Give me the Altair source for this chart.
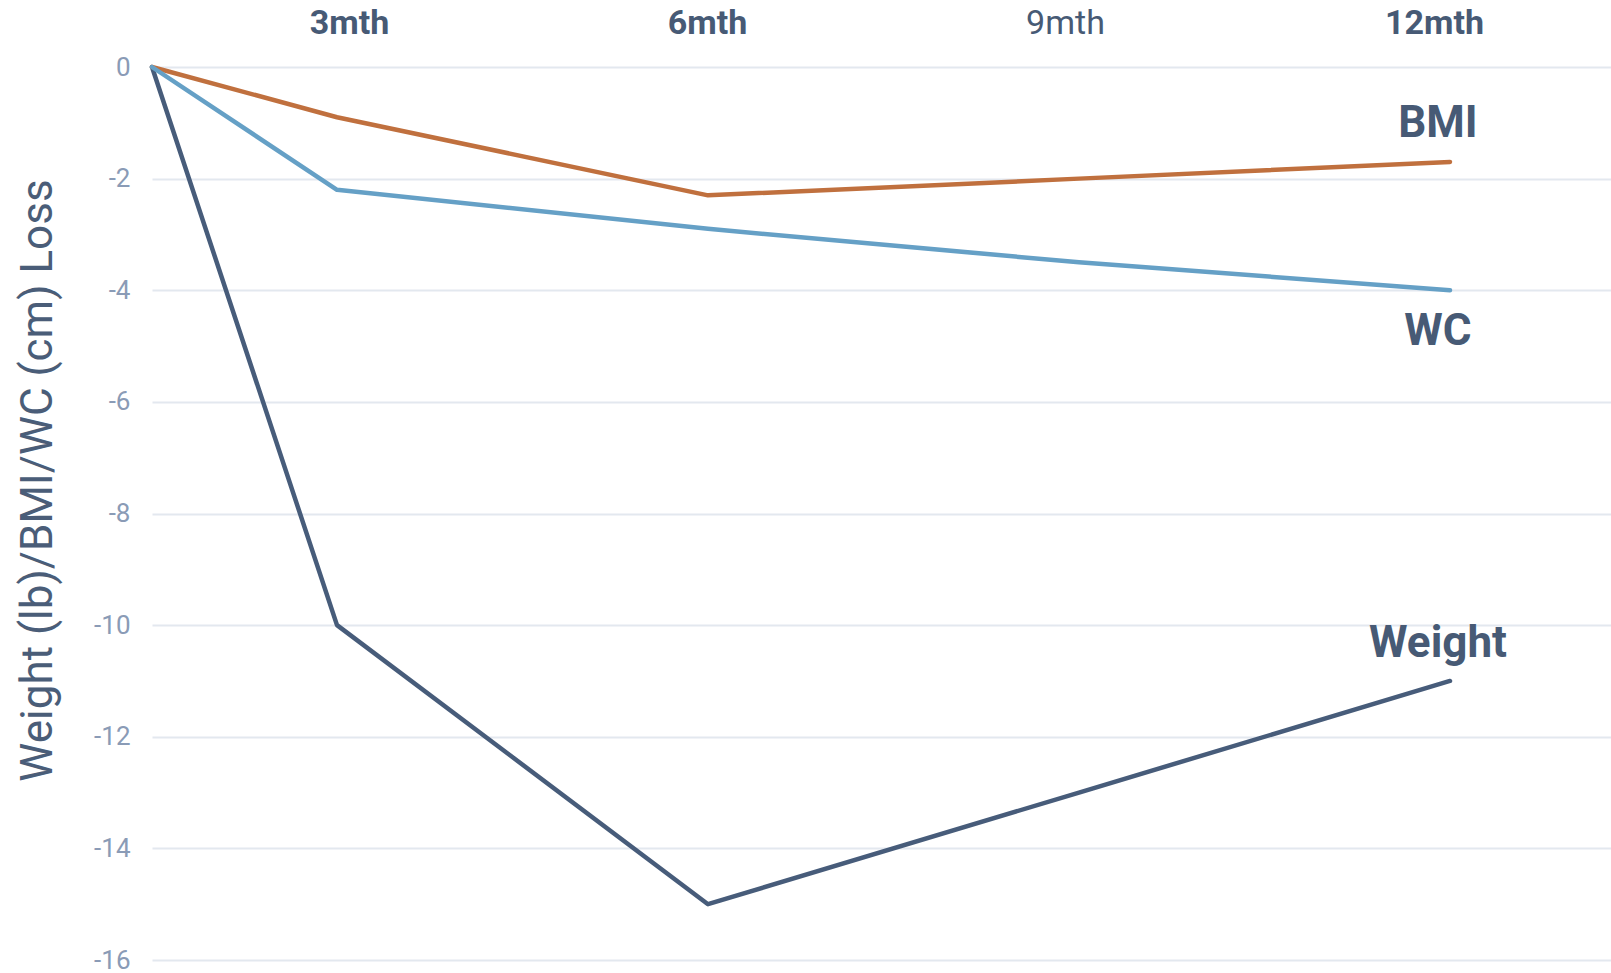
import altair as alt
import pandas as pd

months = [0, 3, 6, 9, 12]
weight = [0, -10, -15, -13, -11]
bmi = [0, -0.9, -2.3, -2.0, -1.7]
wc = [0, -2.2, -2.9, -3.5, -4.0]
series_names = ["Weight", "BMI", "WC"]
series_colors = ["#475c7a", "#c0703e", "#65a0c6"]
tick_months = [3, 6, 9, 12]

rows = []
for name, vals in zip(series_names, [weight, bmi, wc]):
    for m, v in zip(months, vals):
        rows.append({"month": m, "value": v, "series": name})
df = pd.DataFrame(rows)
end_df = df[df["month"] == 12]

FONT = "Roboto"
xscale = alt.Scale(type="linear", domain=[0, 3, 13.302], range=[0, 185, 1459])
yscale = alt.Scale(domain=[-16, 0], nice=False, zero=False)

lines = alt.Chart(df).mark_line(strokeWidth=4.5, strokeCap="round", strokeJoin="round").encode(
    x=alt.X("month:Q", scale=xscale,
            axis=alt.Axis(orient="top", values=tick_months, labelExpr="datum.value + 'mth'",
                          grid=False, domain=False, ticks=False, title=None,
                          labelFont=FONT, labelFontSize=34,
                          labelFontWeight=alt.expr("datum.value == 9 ? 'normal' : 'bold'"),
                          labelOffset=alt.expr("datum.value == 3 ? 12 : datum.value == 6 ? -1 : datum.value == 9 ? -14 : -16"),
                          labelColor="#475a75", labelPadding=27)),
    y=alt.Y("value:Q", scale=yscale,
            axis=alt.Axis(values=list(range(-16, 1, 2)), grid=True, gridColor="#e3e8ef",
                          gridWidth=2, domain=False, ticks=False,
                          labelExpr="'' + datum.value",
                          labelFont=FONT, labelFontSize=26, labelColor="#8a9bb6", labelPadding=22,
                          title="Weight (lb)/BMI/WC (cm) Loss", titleFont=FONT, titleFontSize=44,
                          titleFontWeight="normal", titleColor="#4a5d78",
                          titleX=-114, titleY=413, titleAngle=-90, titleBaseline="middle",
                          titleAlign="center")),
    color=alt.Color("series:N", scale=alt.Scale(domain=series_names, range=series_colors), legend=None),
)

offsets = {"BMI": -38, "WC": 42, "Weight": -37}
texts = []
for name in series_names:
    t = alt.Chart(end_df[end_df["series"] == name]).mark_text(
        font=FONT, fontSize=44, fontWeight="bold", color="#475a75",
        align="center", baseline="middle", dx=-12, dy=offsets[name]
    ).encode(x=alt.X("month:Q", scale=xscale), y=alt.Y("value:Q", scale=yscale), text="series:N")
    texts.append(t)

chart = alt.layer(lines, *texts).properties(
    width=1459, height=893,
    background="white",
    autosize=alt.AutoSizeParams(type="none"),
    padding={"left": 152, "top": 67, "right": 0, "bottom": 13},
).configure_view(stroke=None)

chart.save("out.html", embed_options={"renderer": "svg", "actions": False})
